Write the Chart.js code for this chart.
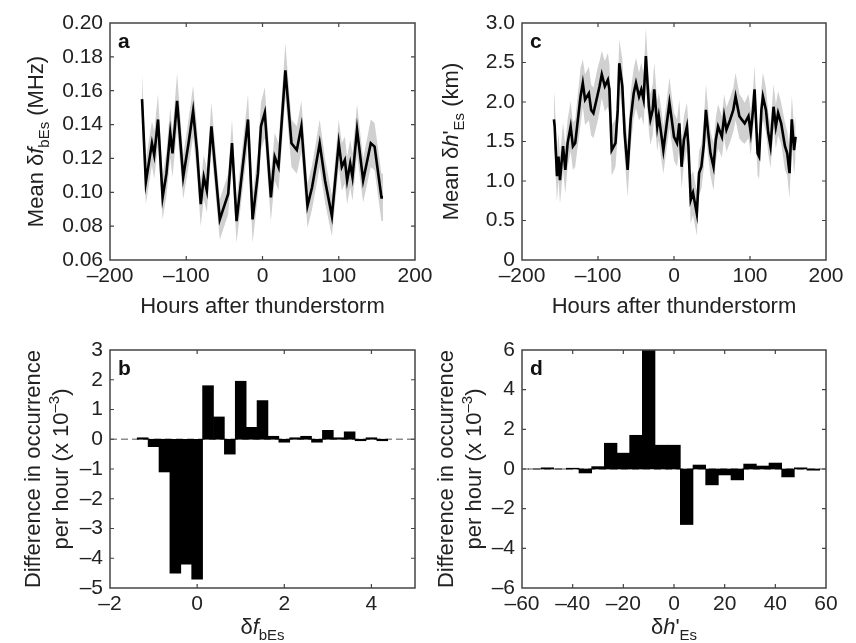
<!DOCTYPE html>
<html>
<head>
<meta charset="utf-8">
<script src="https://cdn.jsdelivr.net/npm/chart.js@4.4.0/dist/chart.umd.min.js"></script>
<style>
  body { margin: 0; background: #fff; }
  .panel { position: absolute; }
</style>
</head>
<body>
<div class="panel" style="left:0;top:0;width:445px;height:320px"><canvas id="chartA"></canvas></div>
<div class="panel" style="left:428px;top:0;width:428px;height:320px"><canvas id="chartC"></canvas></div>
<div class="panel" style="left:0;top:320px;width:445px;height:323px"><canvas id="chartB"></canvas></div>
<div class="panel" style="left:428px;top:320px;width:428px;height:323px"><canvas id="chartD"></canvas></div>
<script>
// a: mean delta f_bEs (MHz) against hours after thunderstorm
const hoursA = [-158, -153, -145, -142, -137, -131, -126, -121, -118, -112,
  -104, -97, -91, -86, -81, -77, -73, -67, -56, -45,
  -40, -34, -25, -19, -13, -6, -2, 3, 11, 16,
  21, 30, 38, 45, 51, 59, 65, 75, 82, 91,
  100, 104, 108, 111, 115, 118, 124, 132, 142, 147,
  156, 158];
const meanA = [0.155, 0.106, 0.129, 0.122, 0.143, 0.097, 0.111, 0.135, 0.123, 0.154,
  0.109, 0.129, 0.148, 0.125, 0.093, 0.109, 0.101, 0.139, 0.084, 0.099,
  0.129, 0.083, 0.119, 0.143, 0.084, 0.111, 0.139, 0.147, 0.097, 0.121,
  0.115, 0.172, 0.129, 0.125, 0.139, 0.092, 0.103, 0.129, 0.107, 0.086,
  0.129, 0.115, 0.119, 0.107, 0.117, 0.109, 0.137, 0.107, 0.129, 0.127,
  0.097, 0.097];
const errA = [0.015, 0.013, 0.013, 0.014, 0.015, 0.013, 0.013, 0.015, 0.014, 0.016,
  0.013, 0.014, 0.015, 0.014, 0.013, 0.013, 0.013, 0.014, 0.012, 0.012,
  0.014, 0.013, 0.013, 0.015, 0.014, 0.013, 0.014, 0.015, 0.014, 0.014,
  0.014, 0.016, 0.014, 0.014, 0.015, 0.013, 0.013, 0.014, 0.013, 0.012,
  0.014, 0.014, 0.014, 0.014, 0.014, 0.014, 0.015, 0.013, 0.014, 0.014,
  0.014, 0.014];

// c: mean delta h'_Es (km) against hours after thunderstorm
const hoursC = [-158, -157, -154, -152, -150, -146, -143, -140, -136, -133,
  -130, -125, -123, -120, -117, -112, -109, -106, -101, -98,
  -95, -91, -87, -85, -82, -77, -74, -72, -68, -65,
  -61, -57, -53, -50, -46, -43, -40, -37, -33, -31,
  -28, -26, -22, -20, -17, -14, -10, -6, -3, 0,
  4, 7, 10, 13, 17, 19, 22, 25, 30, 33,
  36, 39, 42, 45, 48, 52, 55, 58, 63, 66,
  69, 74, 78, 81, 86, 89, 93, 98, 101, 104,
  106, 110, 112, 115, 117, 121, 124, 127, 131, 134,
  137, 141, 146, 149, 152, 155, 158, 160];
const meanC = [1.78, 1.69, 1.06, 1.31, 1.01, 1.44, 1.14, 1.48, 1.69, 1.44,
  1.48, 1.90, 2.07, 2.24, 2.03, 2.11, 1.90, 1.86, 2.07, 2.20,
  2.35, 2.20, 2.28, 2.16, 1.39, 1.48, 1.90, 2.49, 2.20, 1.61,
  1.14, 1.78, 2.11, 2.24, 2.07, 2.16, 2.03, 2.58, 1.94, 1.78,
  1.90, 2.16, 1.69, 1.82, 1.61, 1.39, 1.69, 1.99, 1.78, 1.56,
  1.48, 1.73, 1.18, 1.52, 1.69, 1.44, 0.76, 0.85, 0.59, 1.10,
  1.18, 1.44, 1.90, 1.61, 1.35, 1.18, 1.52, 1.69, 1.56, 1.82,
  1.65, 1.78, 1.90, 2.07, 1.82, 1.78, 1.73, 1.82, 1.61, 1.90,
  2.16, 1.35, 1.31, 1.90, 2.07, 1.90, 1.61, 1.44, 1.94, 1.69,
  1.86, 1.73, 1.44, 1.35, 1.10, 1.78, 1.39, 1.56];
const errC = [0.36, 0.34, 0.32, 0.30, 0.30, 0.30, 0.30, 0.30, 0.32, 0.30,
  0.30, 0.34, 0.36, 0.30, 0.32, 0.34, 0.32, 0.32, 0.34, 0.32,
  0.30, 0.32, 0.34, 0.32, 0.32, 0.30, 0.32, 0.30, 0.34, 0.32,
  0.34, 0.34, 0.32, 0.32, 0.30, 0.34, 0.32, 0.36, 0.32, 0.32,
  0.32, 0.34, 0.32, 0.30, 0.32, 0.30, 0.30, 0.32, 0.30, 0.30,
  0.30, 0.30, 0.28, 0.30, 0.30, 0.30, 0.30, 0.28, 0.28, 0.28,
  0.28, 0.30, 0.32, 0.30, 0.28, 0.30, 0.28, 0.28, 0.26, 0.28,
  0.28, 0.28, 0.28, 0.30, 0.28, 0.28, 0.26, 0.28, 0.28, 0.26,
  0.30, 0.28, 0.28, 0.28, 0.30, 0.28, 0.26, 0.28, 0.28, 0.28,
  0.28, 0.26, 0.30, 0.28, 0.32, 0.30, 0.30, 0.28];

// b: difference in occurrence per hour (x 10^-3) by delta f_bEs bin
const binsB = [-1.25, -1, -0.75, -0.5, -0.25, 0, 0.25, 0.5, 0.75, 1, 1.25, 1.5,
  1.75, 2, 2.25, 2.5, 2.75, 3, 3.25, 3.5, 3.75, 4, 4.25];
const diffB = [0.05, -0.25, -1.1, -4.5, -4.2, -4.7, 1.8, 0.75, -0.5, 1.95, 0.4, 1.3,
  0.1, -0.1, 0.05, 0.1, -0.1, 0.3, 0.05, 0.25, -0.05, 0.05, -0.05];

// d: difference in occurrence per hour (x 10^-3) by delta h'_Es bin
const binsD = [-55, -50, -45, -40, -35, -30, -25, -20, -15, -10, -5, 0,
  5, 10, 15, 20, 25, 30, 35, 40, 45, 50, 55];
const diffD = [0, 0.06, 0, 0.04, -0.2, 0.12, 1.3, 0.8, 1.7, 6.0, 1.2, 1.2,
  -2.8, 0.2, -0.8, -0.3, -0.55, 0.25, 0.15, 0.3, -0.4, 0.06, -0.06];

const FONT = '"Liberation Sans", Arial, Helvetica, sans-serif';
Chart.defaults.font.family = FONT;
Chart.defaults.font.size = 21;
Chart.defaults.color = '#222';

const dash = v => String(v).replace('-', '\u2013');

function partFont(p, size) {
  const s = (p.sub || p.sup) ? Math.round(size * 0.68) : size;
  return (p.i ? 'italic ' : '') + s + 'px ' + FONT;
}

// draws text with italic / subscript / superscript pieces, centred on (cx, cy)
function drawRich(ctx, parts, cx, cy, size, vertical) {
  ctx.save();
  ctx.translate(cx, cy);
  if (vertical) ctx.rotate(-Math.PI / 2);
  let w = 0;
  parts.forEach(p => { ctx.font = partFont(p, size); w += ctx.measureText(p.t).width; });
  let x = -w / 2;
  ctx.textAlign = 'left';
  ctx.textBaseline = 'alphabetic';
  parts.forEach(p => {
    ctx.font = partFont(p, size);
    let dy = size * 0.36;
    if (p.sub) dy += size * 0.28;
    if (p.sup) dy -= size * 0.42;
    ctx.fillText(p.t, x, dy);
    x += ctx.measureText(p.t).width;
  });
  ctx.restore();
}

const deco = {
  id: 'deco',
  beforeDatasetsDraw(chart, args, o) {
    if (!o.zeroLine) return;
    const ctx = chart.ctx, a = chart.chartArea;
    const y0 = chart.scales.y.getPixelForValue(0);
    ctx.save();
    ctx.strokeStyle = '#8c8c8c';
    ctx.lineWidth = 1.5;
    ctx.setLineDash([7, 4]);
    ctx.beginPath();
    ctx.moveTo(a.left, y0);
    ctx.lineTo(a.right, y0);
    ctx.stroke();
    ctx.restore();
  },
  afterDatasetsDraw(chart, args, o) {
    const ctx = chart.ctx, a = chart.chartArea;
    const xs = chart.scales.x, ys = chart.scales.y;
    ctx.save();
    ctx.strokeStyle = '#444';
    ctx.lineWidth = 1.5;
    ctx.strokeRect(a.left, a.top, a.right - a.left, a.bottom - a.top);
    // tick marks point inward on all four sides
    ctx.lineWidth = 1.2;
    ctx.beginPath();
    xs.ticks.forEach(t => {
      const px = xs.getPixelForValue(t.value);
      if (px < a.left + 2 || px > a.right - 2) return;
      ctx.moveTo(px, a.bottom); ctx.lineTo(px, a.bottom - 4);
      ctx.moveTo(px, a.top); ctx.lineTo(px, a.top + 4);
    });
    ys.ticks.forEach(t => {
      const py = ys.getPixelForValue(t.value);
      if (py < a.top + 2 || py > a.bottom - 2) return;
      ctx.moveTo(a.left, py); ctx.lineTo(a.left + 4, py);
      ctx.moveTo(a.right, py); ctx.lineTo(a.right - 4, py);
    });
    ctx.stroke();
    ctx.fillStyle = '#111';
    ctx.font = 'bold 21px ' + FONT;
    ctx.textAlign = 'left';
    ctx.textBaseline = 'alphabetic';
    ctx.fillText(o.label, a.left + 8, a.top + 25);
    ctx.fillStyle = '#222';
    const midY = (a.top + a.bottom) / 2;
    o.yTitle.forEach(line => drawRich(ctx, line.parts, line.x, midY, 22, true));
    drawRich(ctx, o.xTitle, (a.left + a.right) / 2, o.xTitleY, 22, false);
    ctx.restore();
  }
};

function scales(plot, H, x, y) {
  return {
    x: Object.assign({
      type: 'linear', offset: false,
      grid: { display: false, drawTicks: false },
      border: { display: false },
      afterFit: s => { s.height = H - plot.bottom; s.paddingLeft = 0; s.paddingRight = 0; }
    }, x),
    y: Object.assign({
      type: 'linear',
      grid: { display: false, drawTicks: false },
      border: { display: false },
      afterFit: s => { s.width = plot.left; s.paddingTop = 0; s.paddingBottom = 0; }
    }, y)
  };
}

const yTicks = (step, fmt) => ({ autoSkip: false, padding: 7, stepSize: step, callback: fmt });
const xTicks = step => ({ autoSkip: false, maxRotation: 0, padding: 4, includeBounds: false, stepSize: step, callback: dash });

function lineChart(id, hours, mean, err, plot, yOpts, opts) {
  const pts = arr => hours.map((h, i) => ({ x: h, y: arr[i] }));
  const upper = mean.map((v, i) => v + err[i]);
  const lower = mean.map((v, i) => v - err[i]);
  new Chart(document.getElementById(id), {
    type: 'line',
    data: {
      datasets: [
        { data: pts(mean), borderColor: '#000', borderWidth: 2.6, pointRadius: 0, fill: false },
        { data: pts(upper), borderWidth: 0, borderColor: 'rgba(0,0,0,0)', backgroundColor: '#d0d0d0', pointRadius: 0, fill: '+1' },
        { data: pts(lower), borderWidth: 0, borderColor: 'rgba(0,0,0,0)', pointRadius: 0, fill: false }
      ]
    },
    options: {
      responsive: true, maintainAspectRatio: false, animation: false,
      layout: { padding: { left: 0, top: plot.top, right: plot.W - plot.right, bottom: 0 } },
      plugins: { legend: { display: false }, tooltip: { enabled: false }, deco: opts },
      scales: scales(plot, 320, { min: -200, max: 200, ticks: xTicks(100) }, yOpts)
    },
    plugins: [deco]
  });
}

function barChart(id, bins, diff, plot, xOpts, yOpts, opts) {
  new Chart(document.getElementById(id), {
    type: 'bar',
    data: {
      datasets: [{
        data: bins.map((b, i) => ({ x: b, y: diff[i] })),
        backgroundColor: '#000', borderWidth: 0,
        barPercentage: 1, categoryPercentage: 1
      }]
    },
    options: {
      responsive: true, maintainAspectRatio: false, animation: false,
      layout: { padding: { left: 0, top: plot.top, right: plot.W - plot.right, bottom: 0 } },
      plugins: { legend: { display: false }, tooltip: { enabled: false }, deco: opts },
      scales: scales(plot, 323, xOpts, yOpts)
    },
    plugins: [deco]
  });
}

const fTitle = [{ t: 'Mean \u03b4' }, { t: 'f', i: 1 }, { t: 'bEs', sub: 1 }, { t: ' (MHz)' }];
const hTitle = [{ t: 'Mean \u03b4' }, { t: 'h', i: 1 }, { t: '\'' }, { t: 'Es', sub: 1 }, { t: ' (km)' }];
const hoursTitle = [{ t: 'Hours after thunderstorm' }];
const diff1 = [{ t: 'Difference in occurrence' }];
const diff2 = [{ t: 'per hour (x 10' }, { t: '\u20133', sup: 1 }, { t: ')' }];

lineChart('chartA', hoursA, meanA, errA, { W: 445, left: 110, right: 415, top: 23, bottom: 260 },
  { min: 0.06, max: 0.20, ticks: yTicks(0.02, v => v.toFixed(2)) },
  { label: 'a', yTitle: [{ x: 35, parts: fTitle }], xTitle: hoursTitle, xTitleY: 305 });

lineChart('chartC', hoursC, meanC, errC, { W: 428, left: 94, right: 398, top: 23, bottom: 260 },
  { min: 0, max: 3, ticks: yTicks(0.5, v => v === 0 ? '0' : v.toFixed(1)) },
  { label: 'c', yTitle: [{ x: 22, parts: hTitle }], xTitle: hoursTitle, xTitleY: 305 });

barChart('chartB', binsB, diffB, { W: 445, left: 110, right: 415, top: 30, bottom: 268 },
  { min: -2, max: 5, ticks: xTicks(2) },
  { min: -5, max: 3, ticks: yTicks(1, dash) },
  { label: 'b', zeroLine: true, yTitle: [{ x: 32, parts: diff1 }, { x: 60, parts: diff2 }],
    xTitle: [{ t: '\u03b4' }, { t: 'f', i: 1 }, { t: 'bEs', sub: 1 }], xTitleY: 306 });

barChart('chartD', binsD, diffD, { W: 428, left: 94, right: 398, top: 30, bottom: 268 },
  { min: -60, max: 60, ticks: xTicks(20) },
  { min: -6, max: 6, ticks: yTicks(2, dash) },
  { label: 'd', zeroLine: true, yTitle: [{ x: 17, parts: diff1 }, { x: 45, parts: diff2 }],
    xTitle: [{ t: '\u03b4' }, { t: 'h', i: 1 }, { t: '\'' }, { t: 'Es', sub: 1 }], xTitleY: 306 });
</script>
</body>
</html>
